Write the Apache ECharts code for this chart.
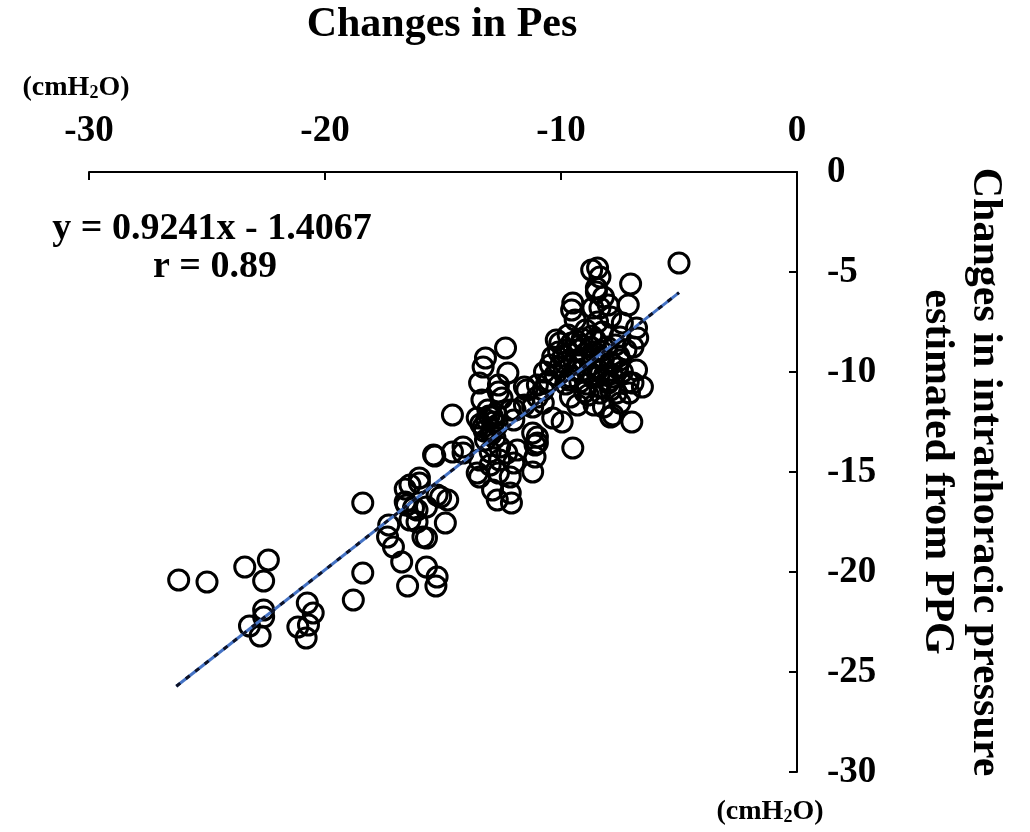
<!DOCTYPE html>
<html>
<head>
<meta charset="utf-8">
<style>
  html, body { margin: 0; padding: 0; background: #fff; }
  #chart { width: 1030px; height: 832px; }
</style>
<script src="https://cdn.jsdelivr.net/npm/echarts@6/dist/echarts.min.js"></script>
</head>
<body>
<div id="chart"></div>
<script>
// Pes change (x) vs PPG-estimated intrathoracic pressure change (y), cmH2O
var pesX = [
  -26.2, -25.0, -23.4, -22.4, -22.6, -22.6, -22.6, -23.2, -22.75, -20.75,
  -20.5, -20.7, -21.15, -20.8, -18.4, -18.8, -18.4,
  -17.3, -17.35, -17.1, -16.75, -16.55, -16.1, -16.4, -15.85, -15.7, -14.9,
  -15.1, -14.8, -15.7, -15.25, -15.3, -16.5, -16.4, -16.0, -16.0, -16.6,
  -16.25, -15.7, -15.25, -16.1, -16.6, -15.35, -14.6, -14.15, -14.15, -15.4,
  -12.35, -13.2, -13.3, -12.25, -13.45, -12.65, -12.65, -13.35, -12.5, -11.45,
  -11.0, -10.75, -10.75, -11.2, -14.6, -13.55, -13.15, -12.9, -13.3, -12.9,
  -12.7, -12.15, -12.0, -11.2, -11.0, -13.45, -13.45, -13.0, -12.6, -12.3,
  -12.0, -12.15, -12.65, -12.9, -12.7, -12.15, -12.1, -11.2, -13.1, -12.8,
  -13.2, -13.0, -12.6, -11.95, -10.35, -11.0, -9.5, -11.1, -11.1, -11.85,
  -13.55, -13.05, -12.85, -13.25, -12.95, -13.4, -12.75,
  -8.7, -8.45, -8.35, -8.5, -9.5, -9.55, -8.65, -8.35, -9.4, -8.45,
  -7.9, -10.05, -10.35, -9.85, -9.3, -9.05, -8.75, -8.35, -8.05, -7.9,
  -9.6, -9.2, -8.65, -8.35, -7.9, -11.55, -11.0, -10.6, -9.6, -11.55,
  -9.95, -7.9, -5.0, -7.05, -7.15, -6.8, -6.75, -6.95, -7.5, -6.8,
  -6.55, -6.95, -7.1, -7.65, -7.8, -7.0, -7.5, -8.2, -8.5, -8.0,
  -7.4, -10.2, -10.05, -7.8, -7.15, -8.35, -8.2,
  -9.7, -8.95, -8.55, -7.7, -9.4, -8.75, -8.15, -7.5, -7.25, -9.75,
  -9.2, -10.25, -10.45, -10.7, -8.85, -9.3, -8.6, -7.4,
  -9.9, -9.45, -9.0, -8.6, -8.2, -7.85, -9.65, -9.15, -8.9, -8.4,
  -8.0, -7.6, -10.1, -9.55, -9.1, -8.7, -8.3, -7.95, -9.8, -9.35,
  -8.8, -8.45, -10.5, -9.0, -8.25, -7.55
];
var ppgY = [
  -20.4, -20.5, -19.75, -19.4, -20.45, -21.9, -22.25, -22.7, -23.2, -21.55,
  -22.05, -22.65, -22.75, -23.3, -20.05, -21.4, -16.55,
  -17.65, -18.25, -18.75, -19.5, -16.65, -16.9, -17.4, -18.25, -18.3, -17.55,
  -16.25, -16.4, -19.75, -20.25, -20.7, -20.7, -15.65, -15.55, -15.3, -16.5,
  -16.8, -16.75, -16.15, -17.5, -15.85, -14.2, -14.0, -14.05, -13.75, -14.15,
  -8.8, -9.3, -9.75, -10.05, -10.55, -10.65, -11.0, -11.4, -11.3, -10.9,
  -10.65, -10.9, -11.55, -11.75, -12.15, -12.3, -12.4, -12.25, -12.75, -12.9,
  -12.65, -11.9, -12.4, -13.05, -13.55, -14.4, -15.25, -14.65, -14.4, -14.05,
  -14.55, -15.25, -15.05, -15.9, -16.4, -16.05, -16.55, -15.0, -11.9, -13.3,
  -13.4, -14.0, -13.75, -11.9, -12.3, -13.25, -13.8, -13.65, -14.25, -13.9,
  -15.05, -12.2, -12.5, -12.95, -13.1, -12.6, -12.1,
  -4.9, -4.8, -5.25, -6.0, -6.55, -6.9, -6.8, -6.8, -7.4, -7.5,
  -7.25, -8.55, -9.25, -9.55, -8.9, -9.4, -8.75, -9.25, -8.75, -9.55,
  -10.25, -10.5, -10.25, -10.75, -10.9, -10.75, -11.25, -10.55, -11.25, -11.65,
  -12.5, -12.25, -4.55, -5.6, -6.65, -7.8, -8.3, -8.75, -8.25, -9.9,
  -10.75, -10.55, -11.05, -11.05, -12.15, -12.5, -11.55, -6.25, -5.8, -6.65,
  -7.55, -8.4, -9.75, -10.25, -10.5, -11.05, -11.75,
  -8.15, -7.9, -8.4, -8.65, -9.9, -9.65, -10.15, -9.4, -8.9, -8.9,
  -8.65, -10.15, -9.65, -10.0, -11.15, -11.65, -11.65, -10.0,
  -9.2, -9.45, -9.1, -9.0, -9.35, -9.6, -10.4, -9.95, -10.6, -10.2,
  -10.55, -9.8, -9.0, -8.55, -8.35, -8.2, -8.95, -10.45, -10.6, -8.45,
  -10.0, -9.9, -10.45, -11.0, -8.0, -9.2
];
// regression line y = 0.9241x - 1.4067, drawn between its end points
var fitX = [-26.3, -5.0];
var fitY = [-25.71, -6.03];

var xTicks = { min: -30, max: 0, interval: 10 };
var yTicks = { min: -30, max: 0, interval: 5 };

var serif = '"Liberation Serif", "Times New Roman", serif';

var points = pesX.map(function (x, i) { return [x, ppgY[i]]; });
var fitLine = fitX.map(function (x, i) { return [x, fitY[i]]; });

var unitRich = { s: { fontSize: 18, fontWeight: 'bold', fontFamily: serif, verticalAlign: 'bottom', padding: [8, 0, 0, 0] } };

var chart = echarts.init(document.getElementById('chart'), null, { renderer: 'canvas' });
chart.setOption({
  animation: false,
  backgroundColor: '#fff',
  grid: { left: 89, right: 233, top: 172, bottom: 60 },
  xAxis: {
    type: 'value',
    position: 'top',
    min: xTicks.min, max: xTicks.max, interval: xTicks.interval,
    axisLine: { onZero: false, lineStyle: { color: '#000', width: 2 } },
    axisTick: { show: true, inside: true, length: 8, lineStyle: { color: '#000', width: 2 } },
    axisLabel: { color: '#000', fontFamily: serif, fontWeight: 'bold', fontSize: 37, margin: 22 },
    splitLine: { show: false }
  },
  yAxis: {
    type: 'value',
    position: 'right',
    min: yTicks.min, max: yTicks.max, interval: yTicks.interval,
    axisLine: { onZero: false, lineStyle: { color: '#000', width: 2 } },
    axisTick: { show: true, inside: true, length: 8, lineStyle: { color: '#000', width: 2 } },
    axisLabel: { color: '#000', fontFamily: serif, fontWeight: 'bold', fontSize: 37, margin: 30 },
    splitLine: { show: false }
  },
  graphic: [
    { type: 'text', style: { text: 'Changes in Pes', font: 'bold 42px ' + serif, fill: '#000', x: 442, y: 25, align: 'center', verticalAlign: 'middle' } },
    { type: 'text', style: { text: '(cmH{s|2}O)', x: 76, y: 88, align: 'center', verticalAlign: 'middle', fill: '#000', font: 'bold 28px ' + serif, rich: unitRich } },
    { type: 'text', style: { text: '(cmH{s|2}O)', x: 770, y: 812, align: 'center', verticalAlign: 'middle', fill: '#000', font: 'bold 28px ' + serif, rich: unitRich } },
    { type: 'text', style: { text: 'y = 0.9241x - 1.4067', x: 212, y: 229, align: 'center', verticalAlign: 'middle', fill: '#000', font: 'bold 38px ' + serif } },
    { type: 'text', style: { text: 'r = 0.89', x: 215, y: 267, align: 'center', verticalAlign: 'middle', fill: '#000', font: 'bold 38px ' + serif } },
    { type: 'text', x: 985, y: 472, rotation: -Math.PI / 2, style: { text: 'Changes in intrathoracic pressure', x: 0, y: 0, align: 'center', verticalAlign: 'middle', fill: '#000', font: 'bold 42px ' + serif } },
    { type: 'text', x: 937, y: 472, rotation: -Math.PI / 2, style: { text: 'estimated from PPG', x: 0, y: 0, align: 'center', verticalAlign: 'middle', fill: '#000', font: 'bold 42px ' + serif } }
  ],
  series: [
    {
      type: 'scatter',
      data: points,
      symbol: 'circle',
      symbolSize: 20,
      itemStyle: { color: 'rgba(0,0,0,0)', borderColor: '#000', borderWidth: 3, opacity: 1 },
      z: 2
    },
    {
      type: 'line',
      data: fitLine,
      symbol: 'none',
      lineStyle: { color: '#4472c4', width: 3 },
      z: 3
    },
    {
      type: 'line',
      data: fitLine,
      symbol: 'none',
      lineStyle: { color: '#0d1226', width: 3, type: [5, 7] },
      z: 4
    }
  ]
});
</script>
</body>
</html>
